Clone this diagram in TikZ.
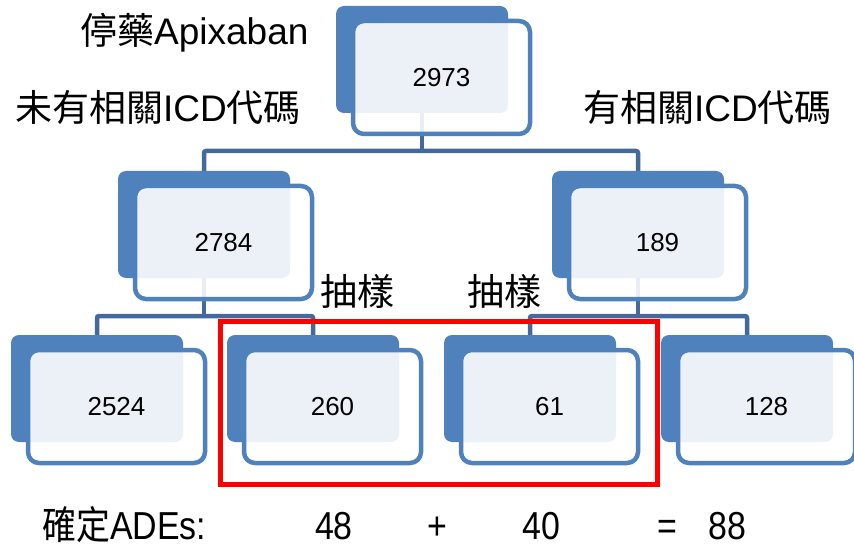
\documentclass[tikz,border=0pt]{standalone}
\usepackage{fontspec}
\usepackage{graphicx}
\setmainfont{Liberation Sans}
\newfontfamily\cjk{Noto Sans CJK TC}

\definecolor{nodeblue}{HTML}{4F81BD}
\definecolor{linkblue}{HTML}{44699C}
\definecolor{boxred}{HTML}{FF0000}

\pgfdeclarelayer{links}
\pgfsetlayers{links,main}

\tikzset{
  backbox/.style={rectangle, rounded corners=8pt, fill=nodeblue,
    minimum width=172pt, minimum height=107pt, inner sep=0pt, outer sep=0pt,
    anchor=north west},
  frontbox/.style={rectangle, rounded corners=11pt, draw=nodeblue,
    line width=4.5pt, fill=white, fill opacity=0.89, text opacity=1,
    minimum width=177pt, minimum height=113pt, inner sep=0pt, outer sep=0pt,
    anchor=north west, font=\fontsize{26}{30}\selectfont},
  link/.style={draw=linkblue, line width=4.5pt, rounded corners=2pt},
  lbl/.style={inner sep=0pt, font=\fontsize{37}{40}\selectfont},
  sumtext/.style={inner sep=0pt, font=\fontsize{39}{42}\selectfont},
}

% a shadow box with an outlined card on top; #2,#3 = top-left of the shadow
\newcommand\orgbox[4]{%
  \node[backbox] (#1b) at (#2,#3) {};
  \node[frontbox] (#1) at (#2+17,#3+15) {#4};}

\begin{document}
\begin{tikzpicture}[x=1pt,y=-1pt]
  \useasboundingbox (0,0) rectangle (854,548);

  % tree of counts
  \orgbox{all}{336}{6}{2973}
  \orgbox{noicd}{118}{171}{2784}
  \orgbox{icd}{552}{171}{189}
  \orgbox{nsplit}{11}{335}{2524}
  \orgbox{nsample}{227}{335}{260}
  \orgbox{isample}{444}{335}{61}
  \orgbox{isplit}{661}{335}{128}

  % elbow connectors behind the boxes
  \coordinate (j1) at (422,151);
  \coordinate (j2) at (204,316);
  \coordinate (j3) at (638,316);
  \begin{pgfonlayer}{links}
    \draw[link] (allb.south) -- (j1);
    \draw[link] (j1) -| (noicdb.north);
    \draw[link] (j1) -| (icdb.north);
    \draw[link] (noicdb.south) -- (j2);
    \draw[link] (j2) -| (nsplitb.north);
    \draw[link] (j2) -| (nsampleb.north);
    \draw[link] (icdb.south) -- (j3);
    \draw[link] (j3) -| (isampleb.north);
    \draw[link] (j3) -| (isplitb.north);
  \end{pgfonlayer}

  % sampled groups
  \draw[draw=boxred, line width=5.5pt] (220.5,321.5) rectangle (657.5,484.5);

  % headings
  \node[lbl, anchor=base west] (title) at (80,45) {{\cjk 停藥}Apixaban};
  \node[lbl, anchor=base west] (lno) at (15,122) {{\cjk 未有相關}ICD{\cjk 代碼}};
  \node[lbl, anchor=base west] (lyes) at (583,122) {{\cjk 有相關}ICD{\cjk 代碼}};
  \node[lbl, anchor=base] (samp1) at (357,305) {\cjk 抽樣};
  \node[lbl, anchor=base] (samp2) at (504,305) {\cjk 抽樣};

  % confirmed events
  \node[sumtext, anchor=base west] (ade) at (42,539) {\scalebox{0.87}[1]{{\cjk 確定}ADEs:}};
  \node[sumtext, anchor=base] (a48) at (334,539) {\scalebox{0.87}[1]{48}};
  \node[sumtext, anchor=base] (plus) at (437,539) {\scalebox{0.87}[1]{+}};
  \node[sumtext, anchor=base] (a40) at (541,539) {\scalebox{0.87}[1]{40}};
  \node[sumtext, anchor=base] (eq) at (667,539) {\scalebox{0.87}[1]{=}};
  \node[sumtext, anchor=base] (a88) at (727,539) {\scalebox{0.87}[1]{88}};
\end{tikzpicture}
\end{document}
